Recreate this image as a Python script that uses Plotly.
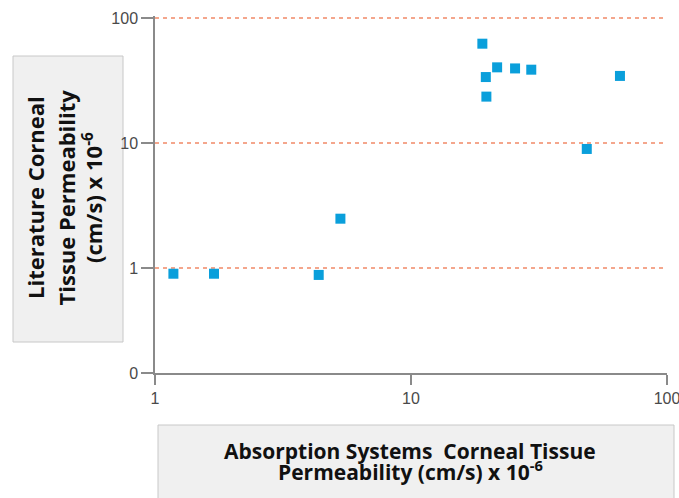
import plotly.graph_objects as go

# Absorption Systems vs literature corneal tissue permeability (cm/s x 1e-6)
absorption_perm = [1.18, 1.70, 4.36, 5.30, 19.0, 19.6, 19.7, 21.7, 25.5, 29.5, 48.6, 65.5]
literature_perm = [0.90, 0.90, 0.88, 2.48, 62.3, 33.7, 23.5, 40.3, 39.5, 38.6, 8.96, 34.4]

x_tickvals = [1, 10, 100]
x_ticktext = ["1", "10", "100"]
y_tickvals = [0.1445, 1, 10, 100]
y_ticktext = ["0", "1", "10", "100"]

W, H = 679, 498
L, R, T, B = 155, 12, 16, 125
plot_w, plot_h = W - L - R, H - T - B


def px_x(px):
    return (px - L) / plot_w


def px_y(py):
    return (H - B - py) / plot_h


fig = go.Figure()
fig.add_trace(go.Scatter(
    x=absorption_perm, y=literature_perm, mode="markers",
    marker=dict(symbol="square", size=10, color="#0A9FDB", line=dict(width=0)),
    showlegend=False, hoverinfo="x+y",
))

axis_common = dict(
    showline=True, linecolor="#8a8a8a", linewidth=1.5,
    ticks="outside", tickcolor="#8a8a8a", tickwidth=1.5,
    tickfont=dict(family="Liberation Sans, Arial, sans-serif", size=16, color="#4a4a4a"),
    zeroline=False, ticklabeloverflow="allow", automargin=False,
)

fig.update_xaxes(type="log", range=[0, 2], tickmode="array",
                 tickvals=x_tickvals, ticktext=x_ticktext, ticklen=10,
                 showgrid=False, **axis_common)
# a little headroom above 100 keeps its dashed grid line visible
fig.update_yaxes(type="log", range=[-0.84, 2.016], tickmode="array",
                 tickvals=y_tickvals, ticktext=y_ticktext, ticklen=12,
                 showgrid=True, gridcolor="#F4A68C", gridwidth=1.5,
                 griddash="4px,4px", **axis_common)

# Title boxes
fig.add_shape(type="rect", xref="paper", yref="paper",
              x0=px_x(13), x1=px_x(123), y0=px_y(342), y1=px_y(56),
              fillcolor="#F0F0F0", line=dict(color="#C8C8C8", width=1), layer="below")
fig.add_shape(type="rect", xref="paper", yref="paper",
              x0=px_x(158), x1=px_x(674), y0=px_y(520), y1=px_y(425),
              fillcolor="#F0F0F0", line=dict(color="#C8C8C8", width=1), layer="below")

y_title_font = dict(family="Open Sans, sans-serif", size=22, color="#111")
x_title_font = dict(family="Open Sans, sans-serif", size=21, color="#111")

y_title_lines = ["<b>Literature Corneal</b>", "<b>Tissue Permeability</b>",
                 "<b>(cm/s) x 10<sup>-6</sup></b>"]
for text, cx in zip(y_title_lines, [35, 65.5, 92]):
    fig.add_annotation(text=text, xref="paper", yref="paper",
                       x=px_x(cx), y=px_y(198), textangle=-90,
                       showarrow=False, font=y_title_font,
                       xanchor="center", yanchor="middle")

x_title_lines = ["<b>Absorption Systems  Corneal Tissue</b>",
                 "<b>Permeability (cm/s) x 10<sup>-6</sup></b>"]
for text, cy in zip(x_title_lines, [451, 470]):
    fig.add_annotation(text=text, xref="paper", yref="paper",
                       x=px_x(410), y=px_y(cy),
                       showarrow=False, font=x_title_font,
                       xanchor="center", yanchor="middle")

fig.update_layout(
    width=W, height=H,
    margin=dict(l=L, r=R, t=T, b=B, autoexpand=False),
    paper_bgcolor="white", plot_bgcolor="white",
)

fig.write_html("out.html")
